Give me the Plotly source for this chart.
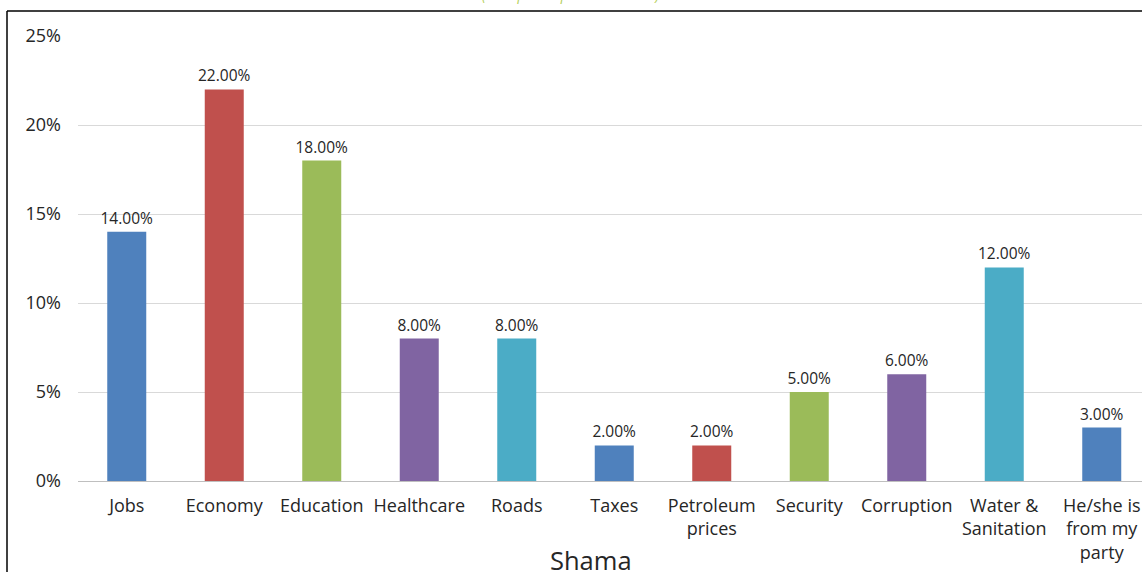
import plotly.graph_objects as go

categories = ["Jobs", "Economy", "Education", "Healthcare", "Roads", "Taxes",
              "Petroleum<br>prices", "Security", "Corruption", "Water &<br>Sanitation",
              "He/she is<br>from my<br>party"]
values = [0.14, 0.22, 0.18, 0.08, 0.08, 0.02, 0.02, 0.05, 0.06, 0.12, 0.03]
colors = ["#4f81bd", "#c0504d", "#9bbb59", "#8064a2", "#4bacc6", "#4f81bd",
          "#c0504d", "#9bbb59", "#8064a2", "#4bacc6", "#4f81bd"]
y_ticks = [0, 0.05, 0.10, 0.15, 0.20, 0.25]
y_tick_labels = ["0%", "5%", "10%", "15%", "20%", "25%"]
x_title = "Shama"

FONT = "Open Sans"
L, T, B = 78, 36, 91
W, H = 1142, 572
plot_w = W - L
plot_h = H - T - B

def px_x(p):
    return (p - L) / plot_w

def px_y(p):
    return (H - B - p) / plot_h

fig = go.Figure(go.Bar(
    x=list(range(len(categories))),
    y=values,
    marker=dict(color=colors, line=dict(width=0)),
    width=0.4,
    text=[f"{v*100:.2f}%" for v in values],
    textposition="outside",
    constraintext="none",
    textfont=dict(family=FONT, size=15.5, color="#262626"),
    cliponaxis=False,
))

fig.update_layout(
    width=W, height=H,
    margin=dict(l=L, r=0, t=T, b=B),
    paper_bgcolor="white", plot_bgcolor="white",
    showlegend=False,
    bargap=0.6,
    xaxis=dict(
        tickmode="array",
        tickvals=list(range(len(categories))),
        ticktext=categories,
        range=[-0.5, -0.5 + plot_w / 97.5],
        showgrid=False, zeroline=False,
        showline=False, ticks="",
        tickfont=dict(family=FONT, size=18, color="#262626"),
        ticklabelstandoff=12,
    ),
    yaxis=dict(
        range=[0, 0.25],
        tickmode="array",
        tickvals=y_ticks,
        ticktext=y_tick_labels,
        showgrid=True, gridcolor="#d9d9d9", gridwidth=1,
        zeroline=True, zerolinecolor="#bfbfbf", zerolinewidth=1,
        showline=False, ticks="",
        tickfont=dict(family=FONT, size=18, color="#262626"),
        ticklabelstandoff=16,
    ),
    shapes=[
        dict(type="line", xref="paper", yref="paper",
             x0=px_x(7), x1=px_x(7), y0=px_y(H + 5), y1=px_y(11),
             line=dict(color="black", width=1.5)),
        dict(type="line", xref="paper", yref="paper",
             x0=px_x(7), x1=px_x(W + 5), y0=px_y(11), y1=px_y(11),
             line=dict(color="black", width=1.5)),
    ],
    annotations=[
        dict(text=x_title, xref="paper", yref="paper",
             x=px_x(591), y=px_y(541), xanchor="center", yanchor="top",
             showarrow=False, font=dict(family=FONT, size=25.5, color="#262626")),
        dict(text="<i>(Multiple Responses Allowed)</i>", xref="paper", yref="paper",
             x=px_x(570), y=px_y(6), xanchor="center", yanchor="bottom",
             showarrow=False, font=dict(family=FONT, size=14, color="#b5cf5a")),
    ],
)

fig.write_html("out.html",
               config={"displayModeBar": False},
               post_script="document.body.style.margin='0';document.body.style.padding='0';")
